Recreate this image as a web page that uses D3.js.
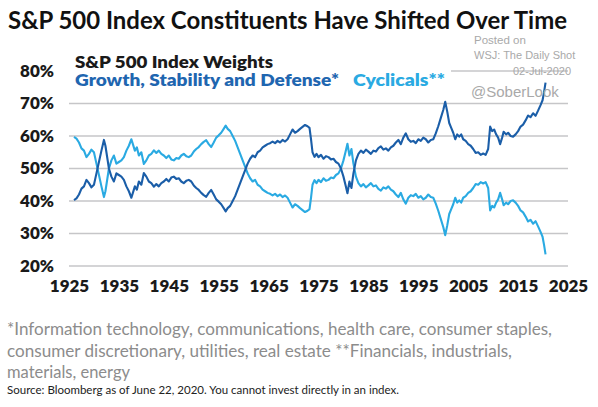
<!DOCTYPE html>
<html>
<head>
<meta charset="utf-8">
<script src="https://cdn.jsdelivr.net/npm/d3@7"></script>
<style>
  body { margin: 0; background: #fff; }
  svg { display: block; }
</style>
</head>
<body>
<svg id="chart"></svg>
<script>
// Growth, Stability and Defense share (%), [year, value]
const growth = [
  [1926.0, 40.3], [1926.5, 40.8], [1927.0, 42.0], [1927.5, 43.8], [1928.0, 44.5], [1928.5, 46.5],
  [1929.0, 45.5], [1929.5, 44.2], [1930.0, 45.0], [1930.5, 48.5], [1931.0, 52.0], [1931.5, 55.5],
  [1932.0, 58.8], [1932.3, 57.0], [1932.7, 53.0], [1933.0, 50.0], [1933.5, 47.5], [1934.0, 46.0],
  [1934.5, 48.5], [1935.0, 48.0], [1935.5, 47.5], [1936.0, 46.5], [1936.5, 44.5], [1937.0, 43.0],
  [1937.5, 41.0], [1937.8, 42.5], [1938.2, 44.5], [1938.6, 43.5], [1939.0, 46.0], [1939.5, 45.0],
  [1940.0, 48.6], [1940.5, 47.5], [1941.0, 46.0], [1941.5, 45.5], [1942.0, 44.4], [1942.5, 45.2],
  [1943.0, 44.5], [1943.5, 45.5], [1944.0, 46.0], [1944.5, 46.8], [1945.0, 46.0], [1945.5, 47.2],
  [1946.0, 47.5], [1946.5, 46.8], [1947.0, 47.0], [1947.5, 46.0], [1948.0, 45.5], [1948.5, 46.2],
  [1949.0, 46.5], [1949.5, 46.0], [1950.0, 44.8], [1950.5, 44.0], [1951.0, 43.4], [1951.5, 42.5],
  [1952.0, 41.8], [1952.5, 41.3], [1953.0, 42.5], [1953.5, 43.4], [1954.0, 42.0], [1954.5, 40.5],
  [1955.0, 39.8], [1955.5, 39.0], [1956.0, 37.8], [1956.4, 36.8], [1956.8, 37.8], [1957.3, 38.5],
  [1957.8, 40.0], [1958.3, 41.5], [1958.8, 43.5], [1959.3, 45.5], [1959.8, 47.5], [1960.3, 49.5],
  [1960.8, 51.5], [1961.3, 53.0], [1961.8, 54.0], [1962.3, 53.5], [1962.8, 55.0], [1963.3, 55.5],
  [1963.8, 56.5], [1964.3, 57.0], [1964.8, 57.5], [1965.3, 57.8], [1965.8, 58.3], [1966.3, 57.8],
  [1966.8, 58.5], [1967.3, 58.0], [1967.8, 58.8], [1968.3, 58.3], [1968.8, 59.0], [1969.3, 60.5],
  [1969.8, 62.0], [1970.3, 61.0], [1970.8, 61.5], [1971.3, 62.2], [1971.8, 62.8], [1972.3, 63.4],
  [1972.8, 63.0], [1973.2, 62.5], [1973.5, 59.0], [1973.8, 55.0], [1974.2, 53.6], [1974.6, 54.5],
  [1975.0, 53.5], [1975.5, 54.2], [1976.0, 53.0], [1976.5, 53.8], [1977.0, 53.5], [1977.5, 52.8],
  [1978.0, 53.0], [1978.5, 52.0], [1979.0, 51.5], [1979.5, 50.0], [1980.0, 47.5], [1980.4, 45.0],
  [1980.8, 42.4], [1981.2, 46.0], [1981.6, 44.0], [1982.0, 48.5], [1982.5, 52.5], [1983.0, 54.5],
  [1983.5, 55.5], [1984.0, 54.8], [1984.5, 55.8], [1985.0, 55.2], [1985.5, 54.5], [1986.0, 55.5],
  [1986.5, 55.2], [1987.0, 56.3], [1987.5, 56.8], [1988.0, 55.8], [1988.5, 56.2], [1989.0, 55.5],
  [1989.5, 56.5], [1990.0, 57.0], [1990.5, 58.0], [1991.0, 58.8], [1991.5, 57.5], [1992.0, 59.5],
  [1992.5, 60.8], [1993.0, 59.0], [1993.5, 58.2], [1994.0, 58.5], [1994.5, 57.8], [1995.0, 59.0],
  [1995.5, 58.5], [1996.0, 59.5], [1996.5, 59.0], [1997.0, 58.0], [1997.5, 58.8], [1998.0, 59.0],
  [1998.5, 60.8], [1999.0, 63.0], [1999.5, 65.5], [2000.0, 68.0], [2000.4, 70.5], [2000.8, 67.5],
  [2001.2, 64.0], [2001.6, 62.5], [2002.0, 61.0], [2002.4, 59.0], [2002.8, 60.5], [2003.2, 59.8],
  [2003.6, 60.5], [2004.0, 59.0], [2004.5, 58.5], [2005.0, 57.5], [2005.5, 57.0], [2006.0, 56.0],
  [2006.5, 54.8], [2007.0, 55.0], [2007.5, 54.2], [2008.0, 54.6], [2008.5, 54.2], [2009.0, 56.0],
  [2009.4, 62.9], [2009.8, 61.5], [2010.2, 62.0], [2010.6, 60.5], [2011.0, 59.5], [2011.4, 57.5],
  [2011.8, 59.5], [2012.1, 61.3], [2012.6, 60.5], [2013.0, 61.0], [2013.5, 60.0], [2014.0, 59.8],
  [2014.5, 60.5], [2015.0, 61.5], [2015.5, 62.9], [2016.0, 63.5], [2016.5, 64.8], [2017.0, 66.3],
  [2017.5, 65.8], [2018.0, 67.0], [2018.5, 66.2], [2019.0, 67.8], [2019.5, 69.5], [2019.9, 71.0],
  [2020.2, 73.5], [2020.5, 76.4]
];

// Cyclicals share (%), [year, value]
const cyclicals = [
  [1926.0, 59.7], [1926.5, 59.2], [1927.0, 58.0], [1927.5, 56.2], [1928.0, 55.5], [1928.5, 53.5],
  [1929.0, 54.5], [1929.5, 55.8], [1930.0, 55.0], [1930.5, 51.5], [1931.0, 48.0], [1931.5, 44.5],
  [1932.0, 41.2], [1932.3, 43.0], [1932.7, 47.0], [1933.0, 50.0], [1933.5, 52.5], [1934.0, 54.0],
  [1934.5, 51.5], [1935.0, 52.0], [1935.5, 52.5], [1936.0, 53.5], [1936.5, 55.5], [1937.0, 57.0],
  [1937.5, 59.0], [1937.8, 57.5], [1938.2, 55.5], [1938.6, 56.5], [1939.0, 54.0], [1939.5, 55.0],
  [1940.0, 51.4], [1940.5, 52.5], [1941.0, 54.0], [1941.5, 54.5], [1942.0, 55.6], [1942.5, 54.8],
  [1943.0, 55.5], [1943.5, 54.5], [1944.0, 54.0], [1944.5, 53.2], [1945.0, 54.0], [1945.5, 52.8],
  [1946.0, 52.5], [1946.5, 53.2], [1947.0, 53.0], [1947.5, 54.0], [1948.0, 54.5], [1948.5, 53.8],
  [1949.0, 53.5], [1949.5, 54.0], [1950.0, 55.2], [1950.5, 56.0], [1951.0, 56.6], [1951.5, 57.5],
  [1952.0, 58.2], [1952.5, 58.7], [1953.0, 57.5], [1953.5, 56.6], [1954.0, 58.0], [1954.5, 59.5],
  [1955.0, 60.2], [1955.5, 61.0], [1956.0, 62.2], [1956.4, 63.2], [1956.8, 62.2], [1957.3, 61.5],
  [1957.8, 60.0], [1958.3, 58.5], [1958.8, 56.5], [1959.3, 54.5], [1959.8, 52.5], [1960.3, 50.5],
  [1960.8, 48.5], [1961.3, 47.0], [1961.8, 46.0], [1962.3, 46.5], [1962.8, 45.0], [1963.3, 44.5],
  [1963.8, 43.5], [1964.3, 43.0], [1964.8, 42.5], [1965.3, 42.2], [1965.8, 41.7], [1966.3, 42.2],
  [1966.8, 41.5], [1967.3, 42.0], [1967.8, 41.2], [1968.3, 41.7], [1968.8, 41.0], [1969.3, 39.5],
  [1969.8, 38.0], [1970.3, 39.0], [1970.8, 38.5], [1971.3, 37.8], [1971.8, 37.2], [1972.3, 36.6],
  [1972.8, 37.0], [1973.2, 37.5], [1973.5, 41.0], [1973.8, 45.0], [1974.2, 46.4], [1974.6, 45.5],
  [1975.0, 46.5], [1975.5, 45.8], [1976.0, 47.0], [1976.5, 46.2], [1977.0, 46.5], [1977.5, 47.2],
  [1978.0, 47.0], [1978.5, 48.0], [1979.0, 48.5], [1979.5, 50.0], [1980.0, 52.5], [1980.4, 55.0],
  [1980.8, 57.6], [1981.2, 54.0], [1981.6, 56.0], [1982.0, 51.5], [1982.5, 47.5], [1983.0, 45.5],
  [1983.5, 44.5], [1984.0, 45.2], [1984.5, 44.2], [1985.0, 44.8], [1985.5, 45.5], [1986.0, 44.5],
  [1986.5, 44.8], [1987.0, 43.7], [1987.5, 43.2], [1988.0, 44.2], [1988.5, 43.8], [1989.0, 44.5],
  [1989.5, 43.5], [1990.0, 43.0], [1990.5, 42.0], [1991.0, 41.2], [1991.5, 42.5], [1992.0, 40.5],
  [1992.5, 39.2], [1993.0, 41.0], [1993.5, 41.8], [1994.0, 41.5], [1994.5, 42.2], [1995.0, 41.0],
  [1995.5, 41.5], [1996.0, 40.5], [1996.5, 41.0], [1997.0, 42.0], [1997.5, 41.2], [1998.0, 41.0],
  [1998.5, 39.2], [1999.0, 37.0], [1999.5, 34.5], [2000.0, 32.0], [2000.4, 29.5], [2000.8, 32.5],
  [2001.2, 36.0], [2001.6, 37.5], [2002.0, 39.0], [2002.4, 41.0], [2002.8, 39.5], [2003.2, 40.2],
  [2003.6, 39.5], [2004.0, 41.0], [2004.5, 41.5], [2005.0, 42.5], [2005.5, 43.0], [2006.0, 44.0],
  [2006.5, 45.2], [2007.0, 45.0], [2007.5, 45.8], [2008.0, 45.4], [2008.5, 45.8], [2009.0, 44.0],
  [2009.4, 37.1], [2009.8, 38.5], [2010.2, 38.0], [2010.6, 39.5], [2011.0, 40.5], [2011.4, 42.5],
  [2011.8, 40.5], [2012.1, 38.7], [2012.6, 39.5], [2013.0, 39.0], [2013.5, 40.0], [2014.0, 40.2],
  [2014.5, 39.5], [2015.0, 38.5], [2015.5, 37.1], [2016.0, 36.5], [2016.5, 35.2], [2017.0, 33.7],
  [2017.5, 34.2], [2018.0, 33.0], [2018.5, 33.8], [2019.0, 32.2], [2019.5, 30.5], [2019.9, 29.0],
  [2020.2, 26.5], [2020.5, 23.6]
];

const xTicks = [1925, 1935, 1945, 1955, 1965, 1975, 1985, 1995, 2005, 2015, 2025];
const yTicks = [20, 30, 40, 50, 60, 70, 80];

const title = 'S&P 500 Index Constituents Have Shifted Over Time';
const legendTitle = 'S&P 500 Index Weights';
const seriesNames = ['Growth, Stability and Defense*', 'Cyclicals**'];
const footnotes = [
  '*Information technology, communications, health care, consumer staples,',
  'consumer discretionary, utilities, real estate **Financials, industrials,',
  'materials, energy'
];
const source = 'Source: Bloomberg as of June 22, 2020. You cannot invest directly in an index.';
const watermark = ['Posted on', 'WSJ: The Daily Shot', '02-Jul-2020', '@SoberLook'];

const W = 598, H = 407;
const darkBlue = '#1b5ea8';
const lightBlue = '#2aaae2';
const font = 'Lato, "Open Sans", sans-serif';

const svg = d3.select('#chart').attr('width', W).attr('height', H);

svg.append('rect').attr('width', W).attr('height', H).attr('fill', '#fff');

const x = d3.scaleLinear().domain([1925, 2025]).range([69, 568]);
const y = d3.scaleLinear().domain([20, 80]).range([266, 71]);

// gridlines
svg.append('g')
  .selectAll('line')
  .data(yTicks)
  .join('line')
  .attr('x1', x(1925))
  .attr('x2', x(2025))
  .attr('y1', d => y(d))
  .attr('y2', d => y(d))
  .attr('stroke', '#c6c6c8')
  .attr('stroke-width', 1.4);

// y axis
const yAxis = svg.append('g')
  .attr('transform', `translate(${x(1925)},0)`)
  .call(d3.axisLeft(y).tickValues(yTicks).tickFormat(d => d + '%').tickSize(0).tickPadding(15));
yAxis.select('.domain').remove();
yAxis.selectAll('text')
  .attr('font-family', font)
  .attr('font-weight', 800)
  .attr('font-size', 17)
  .attr('fill', '#1a1a1a');

// x axis
const xAxis = svg.append('g')
  .attr('transform', `translate(0,${y(20)})`)
  .call(d3.axisBottom(x).tickValues(xTicks).tickFormat(d3.format('d')).tickSize(0).tickPadding(14));
xAxis.select('.domain').remove();
xAxis.selectAll('text')
  .attr('font-family', font)
  .attr('font-weight', 800)
  .attr('font-size', 17)
  .attr('fill', '#1a1a1a');

// lines
const line = d3.line()
  .x(d => x(d[0]))
  .y(d => y(d[1]));

svg.append('path')
  .datum(cyclicals)
  .attr('d', line)
  .attr('fill', 'none')
  .attr('stroke', lightBlue)
  .attr('stroke-width', 2.1)
  .attr('stroke-linejoin', 'round');

svg.append('path')
  .datum(growth)
  .attr('d', line)
  .attr('fill', 'none')
  .attr('stroke', darkBlue)
  .attr('stroke-width', 2.1)
  .attr('stroke-linejoin', 'round');

// legend box covers the left part of the 80% gridline
svg.append('rect')
  .attr('x', x(1925) - 1)
  .attr('y', 52)
  .attr('width', 452 - x(1925))
  .attr('height', 40)
  .attr('fill', '#fff');

svg.append('text')
  .attr('x', 75).attr('y', 68)
  .attr('font-family', font).attr('font-weight', 800).attr('font-size', 16)
  .attr('fill', '#1a1a1a')
  .attr('textLength', 198).attr('lengthAdjust', 'spacingAndGlyphs')
  .text(legendTitle);

svg.append('text')
  .attr('x', 75).attr('y', 86)
  .attr('font-family', font).attr('font-weight', 800).attr('font-size', 16)
  .attr('fill', '#1f66b0')
  .attr('textLength', 264).attr('lengthAdjust', 'spacingAndGlyphs')
  .text(seriesNames[0]);

svg.append('text')
  .attr('x', 353).attr('y', 86)
  .attr('font-family', font).attr('font-weight', 800).attr('font-size', 16)
  .attr('fill', lightBlue)
  .attr('textLength', 92).attr('lengthAdjust', 'spacingAndGlyphs')
  .text(seriesNames[1]);

// title
svg.append('text')
  .attr('x', 8).attr('y', 29)
  .attr('font-family', font).attr('font-weight', 700).attr('font-size', 25)
  .attr('fill', '#111')
  .attr('textLength', 559).attr('lengthAdjust', 'spacingAndGlyphs')
  .text(title);

// watermark
const wm = svg.append('g')
  .attr('font-family', '"Liberation Sans", Arial, sans-serif')
  .attr('fill', '#a9a9a9');
wm.append('text').attr('x', 474).attr('y', 44).attr('font-size', 11.5).text(watermark[0]);
wm.append('text').attr('x', 474).attr('y', 59).attr('font-size', 11).text(watermark[1]);
wm.append('text').attr('x', 513).attr('y', 75).attr('font-size', 11).text(watermark[2]);
wm.append('text').attr('x', 471).attr('y', 97).attr('font-size', 15).text(watermark[3]);

// footnotes
const footWidths = [545, 505, 123];
svg.append('g')
  .selectAll('text')
  .data(footnotes)
  .join('text')
  .attr('x', 7)
  .attr('y', (d, i) => 335 + i * 21.5)
  .attr('font-family', font)
  .attr('font-size', 18)
  .attr('fill', '#8c8c8c')
  .attr('textLength', (d, i) => footWidths[i])
  .attr('lengthAdjust', 'spacingAndGlyphs')
  .text(d => d);

svg.append('text')
  .attr('x', 7).attr('y', 394)
  .attr('font-family', font)
  .attr('font-size', 11.5)
  .attr('fill', '#222')
  .attr('textLength', 392)
  .attr('lengthAdjust', 'spacingAndGlyphs')
  .text(source);
</script>
</body>
</html>
